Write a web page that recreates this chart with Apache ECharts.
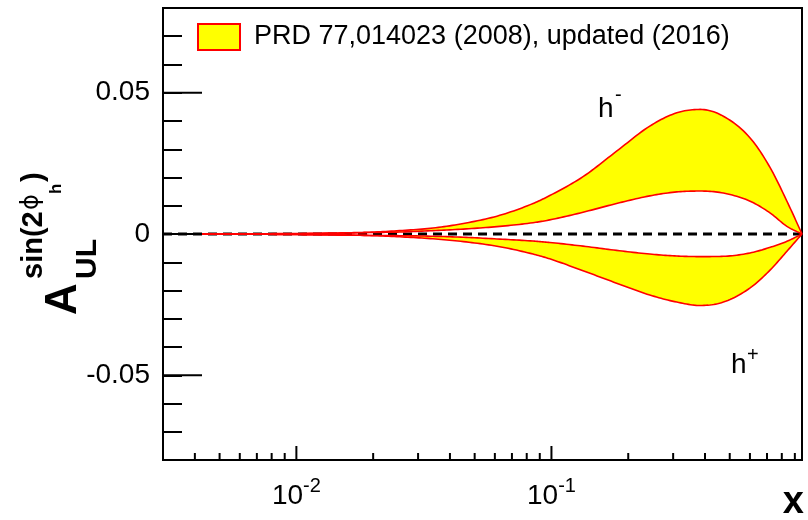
<!DOCTYPE html>
<html>
<head>
<meta charset="utf-8">
<script src="https://cdn.jsdelivr.net/npm/echarts@6.0.0/dist/echarts.min.js"></script>
<style>
  html, body { margin: 0; padding: 0; background: #fff; }
  #main { width: 808px; height: 520px; }
</style>
</head>
<body>
<div id="main"></div>
<script>
// x values where the curves were read (log axis)
var xs = [0.003, 0.005, 0.0075, 0.0103, 0.015, 0.0188, 0.0254, 0.0343, 0.0463, 0.0627, 0.0847,
          0.0985, 0.133, 0.180, 0.243, 0.310, 0.383, 0.472, 0.601, 0.721, 0.838, 0.96];

// h- band (upper / lower edge)
var hmUpper = [0, 0, 0.0001, 0.0002, 0.0004, 0.0006, 0.0012, 0.0021, 0.0039, 0.0066, 0.0108,
               0.0136, 0.0203, 0.0293, 0.0382, 0.0429, 0.0441, 0.0417, 0.0340, 0.0234, 0.0116, 0];
var hmLower = [0, 0, 0.0001, 0.0001, 0.0003, 0.0005, 0.0007, 0.0012, 0.0018, 0.0027, 0.0040,
               0.0050, 0.0077, 0.0108, 0.0135, 0.0149, 0.0152, 0.0145, 0.0116, 0.0074, 0.0027, 0];

// h+ band (upper / lower edge)
var hpUpper = [0, 0, -0.0001, -0.0002, -0.0003, -0.0005, -0.0006, -0.0008, -0.0012, -0.0018, -0.0025,
               -0.0030, -0.0043, -0.0058, -0.0071, -0.0078, -0.0080, -0.0079, -0.0067, -0.0047, -0.0026, 0];
var hpLower = [0, -0.0001, -0.0001, -0.0002, -0.0004, -0.0005, -0.0010, -0.0017, -0.0028, -0.0045, -0.0071,
               -0.0088, -0.0130, -0.0174, -0.0216, -0.0241, -0.0253, -0.0241, -0.0191, -0.0127, -0.0061, 0];

// zero reference line
var zeroLine = [[0.003, 0], [0.96, 0]];

// axes
var xMin = 0.003, xMax = 0.96;
var yMin = -0.08, yMax = 0.08;
var xMajorTicks = [0.01, 0.1];
var xMinorTicks = [0.004, 0.005, 0.006, 0.007, 0.008, 0.009,
                   0.02, 0.03, 0.04, 0.05, 0.06, 0.07, 0.08, 0.09,
                   0.2, 0.3, 0.4, 0.5, 0.6, 0.7, 0.8, 0.9];
var yMajorTicks = [-0.05, 0, 0.05];
var yTickLabels = ['-0.05', '0', '0.05'];

var legendText = 'PRD 77,014023 (2008), updated (2016)';
var FONT = 'Liberation Sans, Arial, Helvetica, sans-serif';

// monotone cubic through pixel points (x increasing), like a smooth line
function smoothPath(pts) {
    var n = pts.length, i, d = [], m = [];
    if (n < 3) return pts.slice();
    for (i = 0; i < n - 1; i++) {
        d.push((pts[i + 1][1] - pts[i][1]) / (pts[i + 1][0] - pts[i][0]));
    }
    m[0] = d[0];
    m[n - 1] = d[n - 2];
    for (i = 1; i < n - 1; i++) {
        m[i] = (d[i - 1] * d[i] <= 0) ? 0 : (d[i - 1] + d[i]) / 2;
    }
    for (i = 0; i < n - 1; i++) {
        if (d[i] === 0) { m[i] = 0; m[i + 1] = 0; continue; }
        var a = m[i] / d[i], b = m[i + 1] / d[i], s = a * a + b * b;
        if (s > 9) {
            var t = 3 / Math.sqrt(s);
            m[i] = t * a * d[i];
            m[i + 1] = t * b * d[i];
        }
    }
    var out = [];
    for (i = 0; i < n - 1; i++) {
        var x0 = pts[i][0], y0 = pts[i][1], x1 = pts[i + 1][0], y1 = pts[i + 1][1];
        var h = x1 - x0, steps = 12;
        for (var k = 0; k < steps; k++) {
            var u = k / steps, u2 = u * u, u3 = u2 * u;
            var y = (2 * u3 - 3 * u2 + 1) * y0 + (u3 - 2 * u2 + u) * h * m[i]
                  + (-2 * u3 + 3 * u2) * y1 + (u3 - u2) * h * m[i + 1];
            out.push([x0 + u * h, y]);
        }
    }
    out.push(pts[n - 1]);
    return out;
}

function bandSeries(name, upper, lower) {
    return {
        name: name,
        type: 'custom',
        coordinateSystem: 'cartesian2d',
        silent: true,
        z: 3,
        data: [[xs[0], 0]],
        renderItem: function (params, api) {
            var up = smoothPath(xs.map(function (x, i) { return api.coord([x, upper[i]]); }));
            var lo = smoothPath(xs.map(function (x, i) { return api.coord([x, lower[i]]); }));
            var poly = up.concat(lo.slice().reverse());
            return {
                type: 'group',
                children: [
                    { type: 'polygon', shape: { points: poly }, style: { fill: '#ffff00', stroke: null } },
                    { type: 'polyline', shape: { points: up }, style: { stroke: '#ff0000', lineWidth: 1.6, fill: null } },
                    { type: 'polyline', shape: { points: lo }, style: { stroke: '#ff0000', lineWidth: 1.6, fill: null } }
                ]
            };
        }
    };
}

function tickSeries(data, len, vertical) {
    return {
        type: 'custom',
        coordinateSystem: 'cartesian2d',
        silent: true,
        clip: false,
        z: 10,
        data: data,
        renderItem: function (params, api) {
            var p = api.coord([api.value(0), api.value(1)]);
            return {
                type: 'line',
                shape: vertical
                    ? { x1: p[0], y1: p[1], x2: p[0], y2: p[1] - len }
                    : { x1: p[0], y1: p[1], x2: p[0] + len, y2: p[1] },
                style: { stroke: '#000', lineWidth: 2 }
            };
        }
    };
}

var chart = echarts.init(document.getElementById('main'));

var option = {
    animation: false,
    grid: {
        left: 163, right: 6, top: 8, bottom: 60,
        show: true, borderColor: '#000', borderWidth: 2
    },
    xAxis: {
        type: 'log',
        logBase: 10,
        min: xMin,
        max: xMax,
        splitLine: { show: false },
        axisTick: { show: false },
        axisLine: { onZero: false, lineStyle: { color: '#000', width: 2 } },
        axisLabel: {
            showMinLabel: false,
            showMaxLabel: false,
            margin: 16,
            formatter: function (v) {
                var e = Math.round(Math.log(v) / Math.LN10);
                for (var i = 0; i < xMajorTicks.length; i++) {
                    if (Math.abs(xMajorTicks[i] - v) < 1e-9) return '{b|10}{s|' + e + '}';
                }
                return '';
            },
            rich: {
                b: { fontSize: 28, fontFamily: FONT, color: '#000', lineHeight: 34, verticalAlign: 'bottom' },
                s: { fontSize: 20, fontFamily: FONT, color: '#000', lineHeight: 24, verticalAlign: 'top' }
            }
        }
    },
    yAxis: {
        type: 'value',
        min: yMin,
        max: yMax,
        interval: 0.01,
        splitLine: { show: false },
        axisLine: { onZero: false, lineStyle: { color: '#000', width: 2 } },
        axisTick: { inside: true, length: 19, lineStyle: { color: '#000', width: 2 } },
        axisLabel: {
            fontSize: 28,
            fontFamily: FONT,
            color: '#000',
            margin: 13,
            padding: [12, 0, 0, 0],
            formatter: function (v) {
                for (var i = 0; i < yMajorTicks.length; i++) {
                    if (Math.abs(yMajorTicks[i] - v) < 1e-6) return yTickLabels[i];
                }
                return '';
            }
        }
    },
    series: [
        {
            name: 'zero', type: 'line', data: zeroLine, silent: true, z: 2,
            showSymbol: false,
            lineStyle: { color: '#000', width: 2.8, type: [9, 6] }
        },
        bandSeries(legendText, hmUpper, hmLower),
        bandSeries('h+ band', hpUpper, hpLower),
        tickSeries(xMinorTicks.map(function (v) { return [v, yMin]; }), 7, true),
        tickSeries(xMajorTicks.map(function (v) { return [v, yMin]; }), 14, true),
        tickSeries(yMajorTicks.map(function (v) { return [xMin, v]; }), 39, false)
    ],
    graphic: [
        // legend box
        {
            type: 'rect', left: 197, top: 23, z: 100,
            shape: { width: 42, height: 26 },
            style: { fill: '#ffff00', stroke: '#ff0000', lineWidth: 2 }
        },
        {
            type: 'text', x: 254, y: 37, z: 100,
            style: { text: legendText, font: '27px ' + FONT, fill: '#000', verticalAlign: 'middle' }
        },
        // h- / h+ labels
        { type: 'text', x: 598, y: 109, z: 100, style: { text: 'h', font: '28px ' + FONT, fill: '#000', verticalAlign: 'middle' } },
        { type: 'text', x: 615, y: 95, z: 100, style: { text: '-', font: '20px ' + FONT, fill: '#000', verticalAlign: 'middle' } },
        { type: 'text', x: 731, y: 365, z: 100, style: { text: 'h', font: '28px ' + FONT, fill: '#000', verticalAlign: 'middle' } },
        { type: 'text', x: 747, y: 355, z: 100, style: { text: '+', font: '20px ' + FONT, fill: '#000', verticalAlign: 'middle' } },
        // x axis title
        { type: 'text', x: 804, y: 503, z: 100, style: { text: 'x', font: 'bold 38px ' + FONT, fill: '#000', align: 'right', verticalAlign: 'middle' } },
        // y axis title, rotated
        {
            type: 'group', x: 80, y: 315, rotation: Math.PI / 2, z: 100,
            children: [
                { type: 'text', x: 0, y: -16, style: { text: 'A', font: 'bold 44px ' + FONT, fill: '#000', verticalAlign: 'middle' } },
                { type: 'text', x: 36, y: 8, style: { text: 'UL', font: 'bold 30px ' + FONT, fill: '#000', verticalAlign: 'middle' } },
                { type: 'text', x: 36, y: -46, style: { text: 'sin(2', font: 'bold 29px ' + FONT, fill: '#000', verticalAlign: 'middle' } },
                { type: 'text', x: 105, y: -48, style: { text: '\u03d5', font: '24px DejaVu Sans, sans-serif', fill: '#000', verticalAlign: 'middle' } },
                { type: 'text', x: 121, y: -24, style: { text: 'h', font: 'bold 17px ' + FONT, fill: '#000', verticalAlign: 'middle' } },
                { type: 'text', x: 133, y: -46, style: { text: ')', font: 'bold 29px ' + FONT, fill: '#000', verticalAlign: 'middle' } }
            ]
        }
    ]
};

chart.setOption(option);
</script>
</body>
</html>
